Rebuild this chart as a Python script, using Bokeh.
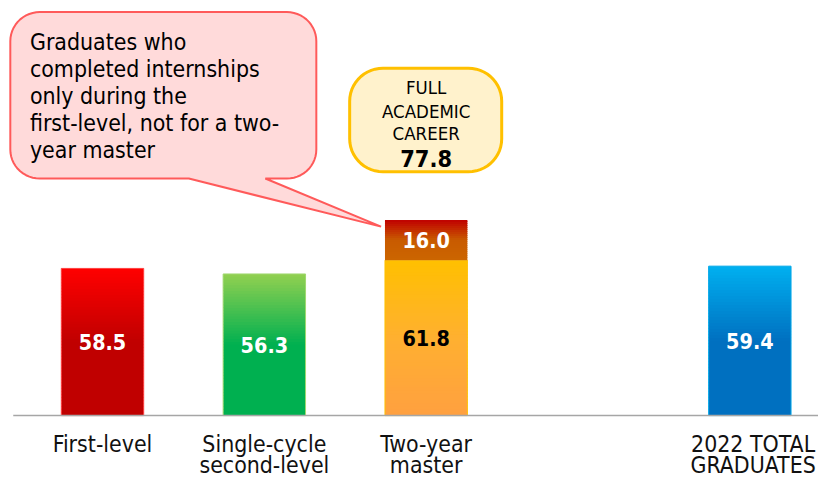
import numpy as np
from bokeh.plotting import figure
from bokeh.models import Range1d
from bokeh.embed import file_html
from bokeh.resources import INLINE
from bokeh.core.properties import value

# ---------------- data ----------------
categories = ["First-level", "Single-cycle\nsecond-level", "Two-year\nmaster", "2022 TOTAL\nGRADUATES"]
positions = [0, 1, 2, 4]
base_values = [58.5, 56.3, 61.8, 59.4]
extra_values = [0.0, 0.0, 16.0, 0.0]   # internships only during first-level (two-year master)
box_lines = ["FULL", "ACADEMIC", "CAREER"]
callout_lines = ["Graduates who", "completed internships", "only during the",
                 "first-level, not for a two-", "year master"]

# ---------------- style ----------------
base_grad = [("#FF0000", "#C00000", "#C00000"),
             ("#92D050", "#00B050", "#00B050"),
             ("#FFC000", "#FFB030", "#FFA040"),
             ("#00B0F0", "#0070C0", "#0070C0")]
extra_grad = ("#C00000", "#C85A00", "#CC6600")
edge_colors = ["#FF4040", "#A0D870", "#FFC000", "#00A8E8"]
label_colors = ["white", "white", "black", "white"]
FONT = "'DejaVu Sans Condensed', 'DejaVu Sans'"

W, H = 818, 478
REF_W, REF_H = 834.0, 494.0
S = (W / REF_W + H / REF_H) / 2   # font scale

def fx(px):   # reference pixel -> data x
    return (px - 104.0) / 165.0

def fy(py):   # reference pixel -> data y
    return (429.0 - py) / 2.6

def fs(px):
    return "%.1fpx" % (px * S)

BAR_W = 84.0 / 165.0

def hex2rgb(h):
    h = h.lstrip("#")
    return np.array([int(h[i:i + 2], 16) for i in (0, 2, 4)], float)

def grad_color(stops, t):
    a, b, c = (hex2rgb(s) for s in stops)
    col = a + (b - a) * (t / 0.5) if t <= 0.5 else b + (c - b) * ((t - 0.5) / 0.5)
    return "#%02x%02x%02x" % tuple(int(round(v)) for v in col)

p = figure(width=W, height=H, x_range=Range1d(fx(0), fx(REF_W)),
           y_range=Range1d(fy(REF_H), fy(0)),
           x_axis_type=None, y_axis_type=None, output_backend="svg",
           toolbar_location=None, min_border=0)
p.grid.visible = False
p.outline_line_color = None
p.background_fill_color = "white"

# ---------------- gradient bars ----------------
def grad_bar(x, bottom, top, stops, n=50):
    xs, bs, ts, cs = [], [], [], []
    h = (top - bottom) / n
    for i in range(n):
        b = bottom + i * h
        t = min(b + h + 0.35, top)
        frac = 1 - (i + 0.5) / n
        xs.append(x); bs.append(b); ts.append(t); cs.append(grad_color(stops, frac))
    p.vbar(x=xs, width=BAR_W, bottom=bs, top=ts, fill_color=cs, line_color=None)

for x, v, e, g, ec in zip(positions, base_values, extra_values, base_grad, edge_colors):
    grad_bar(x, 0, v, g)
    p.vbar(x=[x], width=BAR_W, bottom=[0], top=[v], fill_color=None, line_color=ec, line_width=1)
    if e > 0:
        grad_bar(x, v, v + e, extra_grad, n=20)

# value labels
p.text(x=positions, y=[v / 2 for v in base_values], text=["%.1f" % v for v in base_values],
       text_color=label_colors, text_font=value(FONT), text_font_style="bold",
       text_font_size=fs(22), text_align="center", text_baseline="middle")
ex_x = [x for x, e in zip(positions, extra_values) if e > 0]
ex_y = [v + e / 2 for v, e in zip(base_values, extra_values) if e > 0]
ex_t = ["%.1f" % e for e in extra_values if e > 0]
p.text(x=ex_x, y=ex_y, text=ex_t, text_color="white", text_font=value(FONT),
       text_font_style="bold", text_font_size=fs(22), text_align="center", text_baseline="middle")

# axis line
p.segment(x0=[fx(13)], y0=[0], x1=[fx(834)], y1=[0], line_color="#A6A6A6", line_width=1.5)

# category labels
lx, ly, lt = [], [], []
for x, c in zip(positions, categories):
    for k, line in enumerate(c.split("\n")):
        lx.append(x + 0.02 * (x == 4)); ly.append(fy(458 + 22 * k)); lt.append(line)
p.text(x=lx, y=ly, text=lt, text_color="#111111", text_font=value(FONT),
       text_font_size=fs(23.5), text_align="center", text_baseline="middle")

# ---------------- callouts ----------------
def rounded_path(x0, y0, x1, y1, r, tail=None, n=14):
    pts = []
    def arc(cx, cy, a0, a1):
        for a in np.linspace(np.radians(a0), np.radians(a1), n):
            pts.append((cx + r * np.cos(a), cy + r * np.sin(a)))
    arc(x1 - r, y0 + r, -90, 0)
    arc(x1 - r, y1 - r, 0, 90)
    if tail:
        tb0, tb1, tip = tail
        pts.append((tb1, y1)); pts.append(tip); pts.append((tb0, y1))
    arc(x0 + r, y1 - r, 90, 180)
    arc(x0 + r, y0 + r, 180, 270)
    return [fx(a) for a, b in pts], [fy(b) for a, b in pts]

tip_x = (positions[2] - BAR_W / 2) * 165.0 + 104.0 - 4
tip_y = 429.0 - (base_values[2] + extra_values[2]) * 2.6 + 7
xs, ys = rounded_path(10, 12, 322, 184, 30, tail=(192, 270, (tip_x, tip_y)))
p.patch(xs, ys, fill_color="#FFDADA", line_color="#FF5A5A", line_width=2)
p.text(x=[fx(30)] * len(callout_lines), y=[fy(42.5 + 28 * k) for k in range(len(callout_lines))],
       text=callout_lines, text_color="#000000", text_font=value(FONT),
       text_font_size=fs(23.5), text_align="left", text_baseline="middle")

cx_px = positions[2] * 165.0 + 104.0
xs, ys = rounded_path(cx_px - 78, 70, cx_px + 77, 177, 34)
p.patch(xs, ys, fill_color="#FFF2CC", line_color="#FFC000", line_width=3)
p.text(x=[positions[2]] * len(box_lines), y=[fy(90), fy(114.5), fy(137.5)], text=box_lines,
       text_color="#000000", text_font=value(FONT), text_font_size=fs(19),
       text_align="center", text_baseline="middle")
p.text(x=[positions[2]], y=[fy(163.5)], text=["%.1f" % (base_values[2] + extra_values[2])],
       text_color="#000000", text_font=value(FONT), text_font_style="bold",
       text_font_size=fs(24), text_align="center", text_baseline="middle")

open("out.html", "w").write(file_html(p, INLINE))
